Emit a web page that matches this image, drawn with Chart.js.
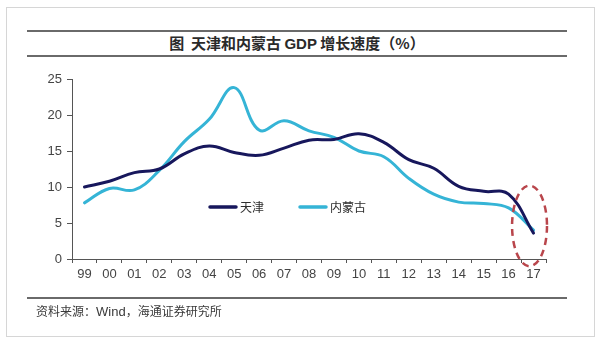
<!DOCTYPE html>
<html>
<head>
<meta charset="utf-8">
<script src="https://cdn.jsdelivr.net/npm/chart.js@4/dist/chart.umd.min.js"></script>
<style>
  html, body { margin: 0; padding: 0; background: #fff; }
  #wrap { position: relative; width: 602px; height: 346px; overflow: hidden; }
  #frame { position: absolute; left: 6px; top: 7px; width: 587px; height: 328px; border: 1px solid #d6d6d6; }
  .rule { position: absolute; left: 27px; width: 540px; height: 0; border-top: 2px solid #6a6a6a; }
  #title {
    position: absolute; left: 27px; width: 540px; top: 32px; text-align: center;
    font: bold 15px "Noto Sans CJK SC", sans-serif; color: #2a2a2a; white-space: pre;
  }
  #title .latin { font-family: "Liberation Sans", Arial, sans-serif; }
  #source {
    position: absolute; left: 36px; top: 302px;
    font: 12px "Noto Sans CJK SC", sans-serif; color: #3a3a3a;
  }
  #source .latin { font-family: "Liberation Sans", Arial, sans-serif; font-size: 13px; }
  #chart { position: absolute; left: 0; top: 0; }
</style>
</head>
<body>
<div id="wrap">
  <div id="frame"></div>
  <div class="rule" style="top:30px"></div>
  <div id="title">图  天津和内蒙古 <span class="latin">GDP</span> 增长速度（%）</div>
  <div class="rule" style="top:55px"></div>
  <canvas id="chart" width="602" height="346"></canvas>
  <div class="rule" style="top:297px"></div>
  <div id="source">资料来源：<span class="latin">Wind</span>，海通证券研究所</div>
</div>
<script>
const years = ['99', '00', '01', '02', '03', '04', '05', '06', '07', '08',
  '09', '10', '11', '12', '13', '14', '15', '16', '17'];
const tianjin = [10.0, 10.8, 12.0, 12.5, 14.6, 15.7, 14.8, 14.4, 15.4, 16.5,
  16.6, 17.4, 16.2, 13.8, 12.6, 10.1, 9.4, 9.0, 3.6];
const neimenggu = [7.8, 9.8, 9.6, 12.3, 16.3, 19.4, 23.8, 17.9, 19.2, 17.8,
  16.9, 15.0, 14.2, 11.2, 9.0, 7.9, 7.7, 7.1, 4.0];
const yTicks = [0, 5, 10, 15, 20, 25];

// dashed ring around the latest year
const ringCenter = 4.6;
const ringHalfHeight = 5.6;

const axisFont = { family: '"Liberation Sans", Arial, sans-serif', size: 13 };

const ringPlugin = {
  id: 'ring',
  afterDraw(chart) {
    const { ctx, scales: { x, y } } = chart;
    const step = x.getPixelForValue(1) - x.getPixelForValue(0);
    const cx = x.getPixelForValue(years.length - 1) - step * 0.16;
    const cy = y.getPixelForValue(ringCenter);
    const ry = y.getPixelForValue(ringCenter - ringHalfHeight) - cy;
    ctx.save();
    ctx.strokeStyle = '#b9464c';
    ctx.lineWidth = 2.5;
    ctx.setLineDash([7, 5]);
    ctx.beginPath();
    ctx.ellipse(cx, cy, step * 0.7, ry, 0, 0, Math.PI * 2);
    ctx.stroke();
    ctx.restore();
  }
};

// legend sits inside the plot, under the curves
const legendPlugin = {
  id: 'innerLegend',
  afterDraw(chart) {
    const { ctx, chartArea } = chart;
    let lx = chartArea.left + 138;
    const ly = chartArea.top + 128;
    ctx.save();
    ctx.font = '12px "Noto Sans CJK SC", sans-serif';
    ctx.textBaseline = 'middle';
    chart.data.datasets.forEach(ds => {
      ctx.strokeStyle = ds.borderColor;
      ctx.lineWidth = 3.5;
      ctx.lineCap = 'round';
      ctx.beginPath();
      ctx.moveTo(lx, ly);
      ctx.lineTo(lx + 26, ly);
      ctx.stroke();
      ctx.fillStyle = '#2e2e2e';
      ctx.fillText(ds.label, lx + 30, ly);
      lx += 30 + ctx.measureText(ds.label).width + 36;
    });
    ctx.restore();
  }
};

new Chart(document.getElementById('chart'), {
  type: 'line',
  data: {
    labels: years,
    datasets: [
      {
        label: '天津',
        data: tianjin,
        borderColor: '#17175c',
        borderWidth: 3,
        tension: 0.4,
        pointRadius: 0,
        borderCapStyle: 'round',
        fill: false
      },
      {
        label: '内蒙古',
        data: neimenggu,
        borderColor: '#35b4d6',
        borderWidth: 3,
        tension: 0.4,
        pointRadius: 0,
        borderCapStyle: 'round',
        fill: false
      }
    ]
  },
  options: {
    responsive: false,
    animation: false,
    devicePixelRatio: 1,
    layout: { padding: { left: 32, right: 56, top: 79, bottom: 57 } },
    plugins: {
      legend: { display: false },
      title: { display: false },
      tooltip: { enabled: false }
    },
    scales: {
      x: {
        offset: true,
        grid: { offset: true, drawOnChartArea: false, tickLength: 4, color: '#555' },
        border: { color: '#555', width: 1 },
        ticks: { font: axisFont, color: '#444', padding: 4, maxRotation: 0, autoSkip: false },
        afterFit: s => { s.height = 30; }
      },
      y: {
        min: 0,
        max: 25,
        afterBuildTicks: s => { s.ticks = yTicks.map(v => ({ value: v })); },
        grid: { drawOnChartArea: false, tickLength: 5, color: '#555' },
        border: { color: '#555', width: 1 },
        ticks: { font: axisFont, color: '#444', padding: 5 },
        afterFit: s => { s.width = 40; }
      }
    }
  },
  plugins: [ringPlugin, legendPlugin]
});
</script>
</body>
</html>
